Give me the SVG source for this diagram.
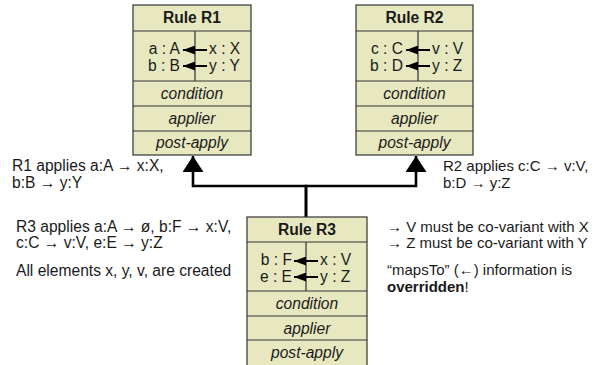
<svg xmlns="http://www.w3.org/2000/svg" width="598" height="365" viewBox="0 0 598 365">
  <style>
    text { font-family: "Liberation Sans", Arial, sans-serif; font-size: 15.6px; fill: #1a1a1a; }
    .hd { font-weight: bold; text-anchor: middle; }
    .row { font-style: italic; text-anchor: middle; }
    .l { text-anchor: end; }
    .rt { font-size: 15px; }
    .box { fill: #e8e8c0; stroke: #333; stroke-width: 1.2; }
    .div { stroke: #333; stroke-width: 1.2; fill: none; }
    .map { stroke: #000; stroke-width: 2; fill: none; marker-end: url(#mhead); }
    .conn { stroke: #000; stroke-width: 2.6; fill: none; marker-end: url(#chead); }
  </style>
  <defs>
    <marker id="mhead" markerUnits="userSpaceOnUse" markerWidth="13" markerHeight="9" refX="12" refY="4.5" orient="auto">
      <path d="M0,0 L12,4.5 L0,9 Z" fill="#000"/>
    </marker>
    <marker id="chead" markerUnits="userSpaceOnUse" markerWidth="17" markerHeight="21" refX="16" refY="10.5" orient="auto">
      <path d="M0,0 L16,10.5 L0,21 Z" fill="#000"/>
    </marker>
  </defs>

  <g id="connectors">
    <path class="conn" d="M306,217 V186 H193 V156"/>
    <path class="conn" d="M306,217 V186 H416 V156"/>
  </g>

  <g id="rule-r1">
    <rect class="box" x="133" y="5" width="118" height="150"/>
    <path class="div" d="M133,31 H251 M133,81 H251 M133,106 H251 M133,131 H251 M195,31 V81"/>
    <text class="hd" x="192" y="23">Rule R1</text>
    <text class="l" x="180" y="54">a : A</text>
    <text x="209" y="54">x : X</text>
    <text class="l" x="180" y="71">b : B</text>
    <text x="209" y="71">y : Y</text>
    <path class="map" d="M207,50 H183"/>
    <path class="map" d="M207,66 H183"/>
    <text class="row" x="192" y="99">condition</text>
    <text class="row" x="192" y="124">applier</text>
    <text class="row" x="192" y="148">post-apply</text>
  </g>

  <g id="rule-r2">
    <rect class="box" x="356" y="5" width="117" height="150"/>
    <path class="div" d="M356,31 H473 M356,81 H473 M356,106 H473 M356,131 H473 M418,31 V81"/>
    <text class="hd" x="414.5" y="23">Rule R2</text>
    <text class="l" x="403" y="54">c : C</text>
    <text x="432" y="54">v : V</text>
    <text class="l" x="403" y="71">b : D</text>
    <text x="432" y="71">y : Z</text>
    <path class="map" d="M430,50 H406"/>
    <path class="map" d="M430,66 H406"/>
    <text class="row" x="414.5" y="99">condition</text>
    <text class="row" x="414.5" y="124">applier</text>
    <text class="row" x="414.5" y="148">post-apply</text>
  </g>

  <g id="rule-r3">
    <rect class="box" x="247" y="217" width="120" height="150"/>
    <path class="div" d="M247,242 H367 M247,291 H367 M247,316 H367 M247,340 H367 M306,242 V291"/>
    <text class="hd" x="307" y="235">Rule R3</text>
    <text class="l" x="292" y="265">b : F</text>
    <text x="320" y="265">x : V</text>
    <text class="l" x="292" y="282">e : E</text>
    <text x="320" y="282">y : Z</text>
    <path class="map" d="M318,261 H294"/>
    <path class="map" d="M318,277 H294"/>
    <text class="row" x="307" y="309">condition</text>
    <text class="row" x="307" y="334">applier</text>
    <text class="row" x="307" y="358">post-apply</text>
  </g>

  <g id="notes">
    <text x="12" y="171">R1 applies a:A → x:X,</text>
    <text x="12" y="188">b:B → y:Y</text>
    <text x="16" y="232">R3 applies a:A → ø, b:F → x:V,</text>
    <text x="16" y="248">c:C → v:V, e:E → y:Z</text>
    <text x="16" y="276">All elements x, y, v, are created</text>
    <text class="rt" x="443" y="171">R2 applies c:C → v:V,</text>
    <text class="rt" x="443" y="188">b:D → y:Z</text>
    <text class="rt" x="387" y="232">→ V must be co-variant with X</text>
    <text class="rt" x="387" y="248">→ Z must be co-variant with Y</text>
    <text class="rt" x="387" y="275">“mapsTo” (←) information is</text>
    <text class="rt" x="387" y="292"><tspan font-weight="bold">overridden</tspan>!</text>
  </g>
</svg>
